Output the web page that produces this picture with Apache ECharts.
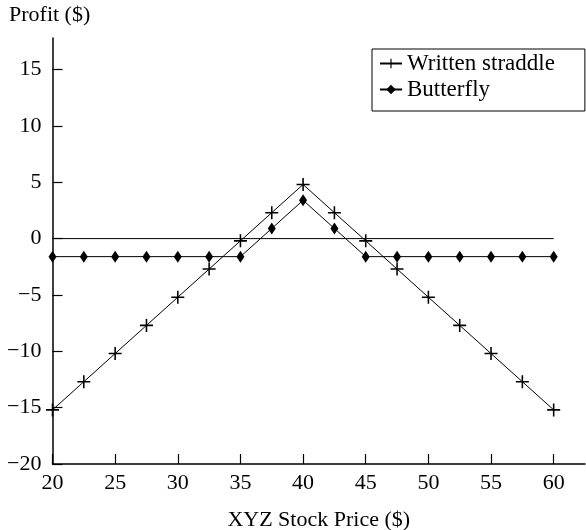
<!DOCTYPE html>
<html>
<head>
<meta charset="utf-8">
<script src="https://cdn.jsdelivr.net/npm/echarts@6/dist/echarts.min.js"></script>
<style>
  html, body { margin: 0; padding: 0; background: #fff; }
  #chart { width: 586px; height: 530px; }
</style>
</head>
<body>
<div id="chart"></div>
<script>
// stock prices at expiration
var prices = [20, 22.5, 25, 27.5, 30, 32.5, 35, 37.5, 40, 42.5, 45, 47.5, 50, 52.5, 55, 57.5, 60];
// profit of the written straddle
var straddle = [-15.2, -12.7, -10.2, -7.7, -5.2, -2.7, -0.2, 2.3, 4.8, 2.3, -0.2, -2.7, -5.2, -7.7, -10.2, -12.7, -15.2];
// profit of the butterfly spread
var butterfly = [-1.6, -1.6, -1.6, -1.6, -1.6, -1.6, -1.6, 0.9, 3.4, 0.9, -1.6, -1.6, -1.6, -1.6, -1.6, -1.6, -1.6];
var zeroLine = [[20, 0], [60, 0]];

var font = "Liberation Serif";
var plus = "path://M4.4,0H5.6V4.4H10V5.6H5.6V10H4.4V5.6H0V4.4H4.4Z";

function pairs(ys) {
  var out = [];
  for (var i = 0; i < prices.length; i++) out.push([prices[i], ys[i]]);
  return out;
}
function minus(v) {
  return String(v).replace("-", "\u2212");
}

var chart = echarts.init(document.getElementById("chart"));
var option = {
  animation: false,
  textStyle: { fontFamily: font, color: "#000" },
  title: {
    text: "Profit ($)",
    left: 9,
    top: 4,
    padding: 0,
    textStyle: { fontFamily: font, fontSize: 22, fontWeight: "normal", color: "#000" }
  },
  legend: {
    orient: "vertical",
    left: 372,
    top: 49,
    padding: [3, 30, 10, 7],
    itemGap: 3,
    itemWidth: 22,
    itemHeight: 12,
    borderColor: "#000",
    borderWidth: 1,
    textStyle: { fontFamily: font, fontSize: 23, color: "#000" },
    data: ["Written straddle", "Butterfly"]
  },
  grid: { left: 52.5, right: 1, top: 38, bottom: 66, outerBoundsMode: "none", containLabel: false },
  xAxis: {
    type: "value",
    min: 20,
    max: 62.5,
    interval: 5,
    name: "XYZ Stock Price ($)",
    nameLocation: "middle",
    nameGap: 45,
    nameTextStyle: { fontFamily: font, fontSize: 22, color: "#000" },
    axisLine: { onZero: false, lineStyle: { color: "#000", width: 1.5 } },
    axisTick: { inside: true, length: 10, lineStyle: { color: "#000", width: 1.2 } },
    axisLabel: {
      showMaxLabel: false,
      fontFamily: font,
      fontSize: 22,
      color: "#000",
      margin: 8,
      formatter: function (v) { return v % 5 === 0 ? v : ""; }
    },
    splitLine: { show: false }
  },
  yAxis: {
    type: "value",
    min: -20,
    max: 17.8,
    interval: 5,
    axisLine: { show: true, onZero: false, lineStyle: { color: "#000", width: 1.5 } },
    axisTick: { show: true, inside: true, length: 10, lineStyle: { color: "#000", width: 1.2 } },
    axisLabel: {
      showMaxLabel: false,
      fontFamily: font,
      fontSize: 22,
      color: "#000",
      margin: 11,
      formatter: function (v) { return v % 5 === 0 ? minus(v) : ""; }
    },
    splitLine: { show: false }
  },
  series: [
    {
      name: "zero",
      type: "line",
      data: zeroLine,
      symbol: "none",
      silent: true,
      lineStyle: { color: "#000", width: 1 },
      z: 1
    },
    {
      name: "Written straddle",
      type: "line",
      data: pairs(straddle),
      symbol: plus,
      symbolSize: 13,
      showAllSymbol: true,
      itemStyle: { color: "#000" },
      lineStyle: { color: "#000", width: 1 },
      z: 3
    },
    {
      name: "Butterfly",
      type: "line",
      data: pairs(butterfly),
      symbol: "diamond",
      symbolSize: [8, 12],
      showAllSymbol: true,
      itemStyle: { color: "#000" },
      lineStyle: { color: "#000", width: 1 },
      z: 2
    }
  ]
};
chart.setOption(option);
</script>
</body>
</html>
